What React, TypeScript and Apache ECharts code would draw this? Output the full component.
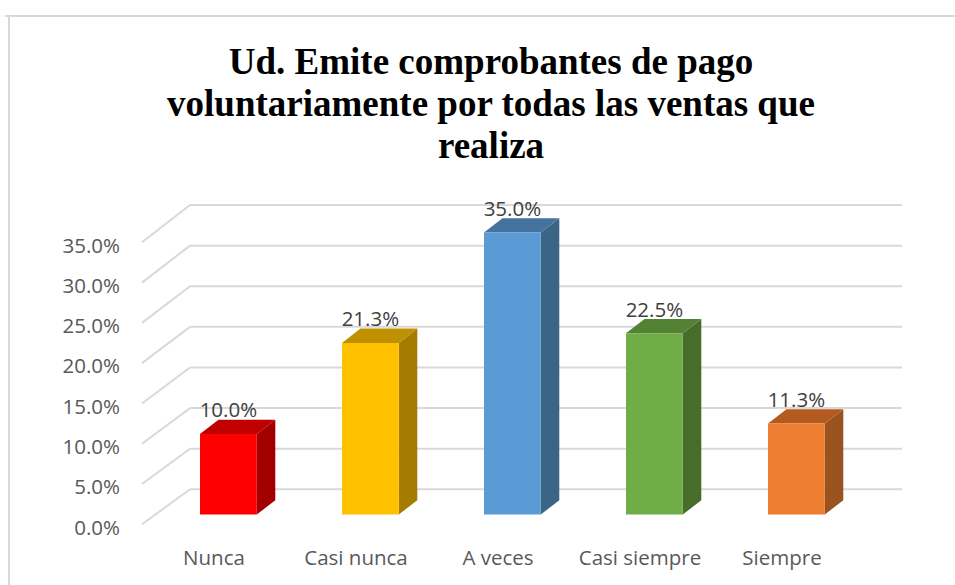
import React, { useEffect, useRef } from "react";
import * as echarts from "echarts";

const categories = ["Nunca", "Casi nunca", "A veces", "Casi siempre", "Siempre"];
const values = [10.0, 21.3, 35.0, 22.5, 11.3];
const yTicks = [0, 5, 10, 15, 20, 25, 30, 35];
const titleText = "Ud. Emite comprobantes de pago\nvoluntariamente por todas las ventas que\nrealiza";

const frontColors = ["#FF0000", "#FFC000", "#5B9BD5", "#70AD47", "#ED7D31"];
const topColors = ["#C00000", "#BF9000", "#44739F", "#548235", "#B55A1F"];
const sideColors = ["#A20000", "#A67C00", "#3B6587", "#486C2A", "#9A521F"];

const FONT = "'Open Sans', sans-serif";

export default function App() {
  const ref = useRef<HTMLDivElement>(null);
  useEffect(() => {
    if (!ref.current) return;
    const chart = echarts.init(ref.current, null, { renderer: "svg" });
    const option: any = {
      animation: false,
      backgroundColor: "#ffffff",
      title: {
        text: titleText,
        left: 486,
        top: 35,
        textAlign: "center",
        textStyle: {
          fontFamily: "'Liberation Serif', 'Times New Roman', serif",
          fontWeight: "bold",
          fontSize: 37,
          lineHeight: 42,
          color: "#000000",
        },
      },
      graphic: [
        { type: "line", shape: { x1: 5, y1: 16, x2: 955, y2: 16 }, style: { stroke: "#d9d9d9", lineWidth: 2 } },
        { type: "line", shape: { x1: 9, y1: 16, x2: 9, y2: 585 }, style: { stroke: "#d9d9d9", lineWidth: 2 } },
      ],
      grid: { left: 143, right: 102, top: 232.5, bottom: 70.5 },
      xAxis: {
        type: "category",
        data: categories,
        axisLine: { show: false },
        axisTick: { show: false },
        splitLine: { show: false },
        axisLabel: { color: "#595959", fontSize: 20.5, fontFamily: FONT, margin: 32, interval: 0 },
      },
      yAxis: {
        type: "value",
        min: 0,
        max: 35,
        interval: 5,
        axisLine: { show: false },
        axisTick: { show: false },
        splitLine: { show: false },
        axisLabel: {
          color: "#595959",
          fontSize: 20.5,
          fontFamily: FONT,
          margin: 23,
          verticalAlign: "top",
          lineHeight: 24,
          formatter: (v: number) => v.toFixed(1) + "%",
        },
      },
      series: [
        {
          type: "custom",
          z: 1,
          silent: true,
          data: yTicks.map((t) => [0, t]),
          encode: { x: 0, y: 1 },
          renderItem: (params: any, api: any) => {
            const cs = params.coordSys;
            const c = api.coord([0, api.value(1)])[1];
            const bottom = cs.y + cs.height;
            const backY = c - 25.2 - (bottom - c) * 0.008;
            const frontY = c + 9.8;
            const fx = cs.x - 1;
            const bx = cs.x + 47;
            const rx = cs.x + cs.width + 49;
            const st = { stroke: "#d9d9d9", lineWidth: 2, fill: "none" };
            return {
              type: "group",
              children: [
                { type: "line", shape: { x1: fx, y1: frontY, x2: bx, y2: backY }, style: st },
                { type: "line", shape: { x1: bx, y1: backY, x2: rx, y2: backY }, style: st },
              ],
            };
          },
        },
        {
          type: "custom",
          z: 2,
          data: values.map((v, i) => [i, v]),
          encode: { x: 0, y: 1 },
          renderItem: (params: any, api: any) => {
            const i = api.value(0);
            const v = api.value(1);
            const base = api.coord([i, 0]);
            const top = api.coord([i, v]);
            const band = api.size([1, 0])[0];
            const w = band * 0.4;
            const x0 = base[0] - band * 0.0986;
            const x1 = x0 + w;
            const yb = base[1];
            const yt = top[1];
            const dx = 18.5;
            const dy = 14.3;
            const idx = params.dataIndex;
            return {
              type: "group",
              children: [
                {
                  type: "polygon",
                  shape: { points: [[x1, yt], [x1 + dx, yt - dy], [x1 + dx, yb - dy], [x1, yb]] },
                  style: { fill: sideColors[idx] },
                },
                {
                  type: "polygon",
                  shape: { points: [[x0, yt], [x1, yt], [x1 + dx, yt - dy], [x0 + dx, yt - dy]] },
                  style: { fill: topColors[idx] },
                },
                {
                  type: "rect",
                  shape: { x: x0, y: yt, width: w, height: yb - yt },
                  style: { fill: frontColors[idx] },
                },
                {
                  type: "text",
                  x: (x0 + x1) / 2,
                  y: yt - 24.5,
                  style: {
                    text: v.toFixed(1) + "%",
                    align: "center",
                    verticalAlign: "middle",
                    fill: "#404040",
                    fontSize: 20.5,
                    fontFamily: FONT,
                  },
                },
              ],
            };
          },
        },
      ],
    };
    chart.setOption(option);
    return () => chart.dispose();
  }, []);
  return (
    <div
      ref={ref}
      style={{ position: "fixed", left: 0, top: 0, width: 955, height: 585, background: "#fff" }}
    />
  );
}
